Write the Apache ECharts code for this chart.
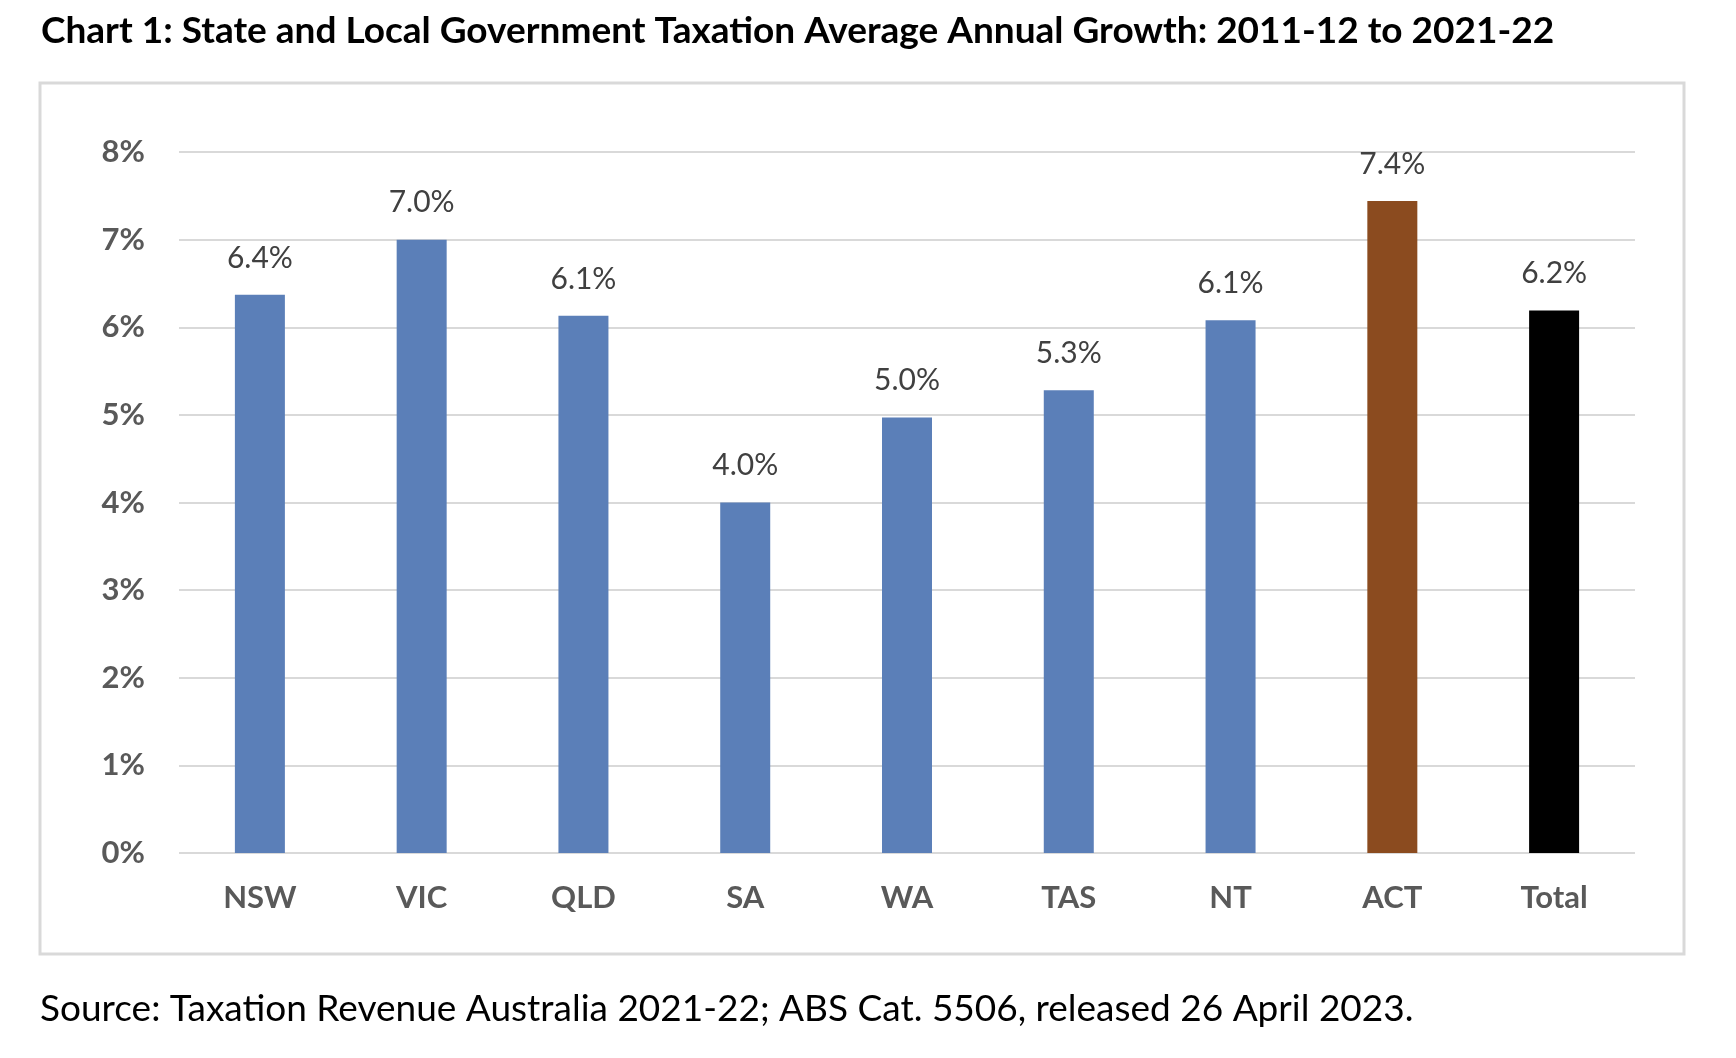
<!DOCTYPE html>
<html>
<head>
<meta charset="utf-8">
<script src="https://cdn.jsdelivr.net/npm/echarts@6/dist/echarts.min.js"></script>
<style>
  html, body { margin: 0; padding: 0; background: #fff; }
  #chart { width: 1736px; height: 1058px; }
</style>
</head>
<body>
<div id="chart"></div>
<script>
// data
var states = ['NSW', 'VIC', 'QLD', 'SA', 'WA', 'TAS', 'NT', 'ACT', 'Total'];
var growth = [6.37, 7.0, 6.13, 4.0, 4.97, 5.28, 6.08, 7.44, 6.19];
var yTicks = [0, 1, 2, 3, 4, 5, 6, 7, 8];

var titleText = 'Chart 1: State and Local Government Taxation Average Annual Growth: 2011-12 to 2021-22';
var sourceText = 'Source: Taxation Revenue Australia 2021-22; ABS Cat. 5506, released 26 April 2023.';

// bar colours: blue for states, brown for ACT, black for total
var barColor = function (name) {
    if (name === 'ACT') return '#8B4B1F';
    if (name === 'Total') return '#000000';
    return '#5B7FB8';
};

var FONT = 'Lato';

var mychart = echarts.init(document.getElementById('chart'));
var option = {
    animation: false,
    backgroundColor: '#ffffff',
    textStyle: { fontFamily: FONT },
    grid: { left: 179, right: 101, top: 152, bottom: 205 },
    graphic: [
        {
            type: 'rect',
            shape: { x: 40, y: 83, width: 1644, height: 871 },
            style: { fill: 'none', stroke: '#D9D9D9', lineWidth: 3 },
            silent: true
        },
        {
            type: 'text',
            left: 41, top: 13,
            style: { text: titleText, fontFamily: FONT, fontWeight: 'bold', fontSize: 37, fill: '#000' }
        },
        {
            type: 'text',
            left: 40, top: 991,
            style: { text: sourceText, fontFamily: FONT, fontSize: 37, fill: '#000' }
        }
    ],
    xAxis: {
        type: 'category',
        data: states,
        axisLine: { show: false },
        axisTick: { show: false },
        axisLabel: {
            color: '#595959', fontWeight: 'bold', fontSize: 31, fontFamily: FONT,
            margin: 29, lineHeight: 32
        }
    },
    yAxis: {
        type: 'value',
        min: yTicks[0],
        max: yTicks[yTicks.length - 1],
        interval: 1,
        axisLine: { show: false },
        axisTick: { show: false },
        splitLine: { lineStyle: { color: '#D9D9D9', width: 2 } },
        axisLabel: {
            color: '#595959', fontWeight: 'bold', fontSize: 31, fontFamily: FONT,
            margin: 34,
            formatter: function (v) { return v + '%'; }
        }
    },
    series: [
        {
            type: 'bar',
            barWidth: 50,
            data: growth.map(function (v, i) {
                return { value: v, itemStyle: { color: barColor(states[i]) } };
            }),
            label: {
                show: true,
                position: 'top',
                distance: 21,
                color: '#404040',
                fontSize: 30,
                lineHeight: 32,
                fontFamily: FONT,
                formatter: function (p) { return p.value.toFixed(1) + '%'; }
            }
        }
    ]
};
option && mychart.setOption(option);
</script>
</body>
</html>
